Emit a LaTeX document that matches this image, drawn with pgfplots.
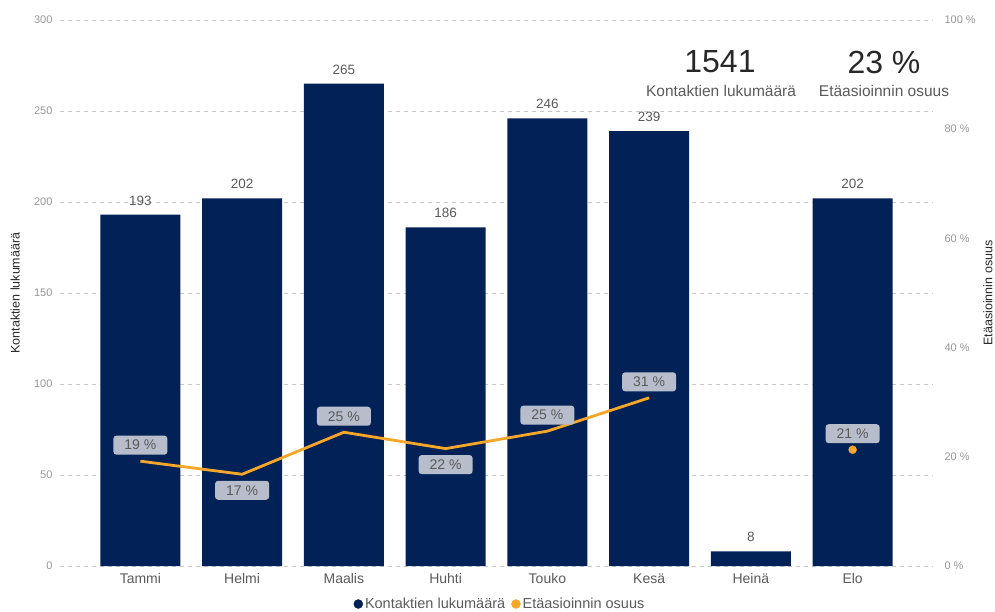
\documentclass[border=0pt]{standalone}
\usepackage{fontspec}
\setmainfont{Liberation Sans}
\usepackage{pgfplots}
\pgfplotsset{compat=1.18}
\definecolor{navy}{RGB}{2,33,86}
\definecolor{orangeline}{RGB}{246,166,40}
\definecolor{boxgray}{RGB}{183,189,203}
\definecolor{txtgray}{RGB}{90,90,90}
\definecolor{tickgray}{RGB}{150,150,150}
\definecolor{gridgray}{RGB}{200,200,200}
\definecolor{darktxt}{RGB}{40,40,40}
\begin{document}
\begin{tikzpicture}
\pgfplotsset{
  common/.style={
    scale only axis, width=873pt, height=546pt,
    at={(0,0)}, anchor=south west,
    xmin=-0.79, xmax=7.79,
    axis line style={draw=none},
    major tick length=0pt,
    /pgf/number format/assume math mode=true,
    yticklabel style={font=\fontsize{11}{13}\selectfont, text=tickgray},
  },
}
\begin{axis}[common,
  ymin=0, ymax=300,
  ytick={0,50,...,300},
  yticklabel style={xshift=-4pt},
  ymajorgrids,
  grid style={gridgray, line width=0.8pt, dash pattern=on 4pt off 4pt},
  xtick={0,...,7},
  xticklabels={Tammi,Helmi,Maalis,Huhti,Touko,Kesä,Heinä,Elo},
  xticklabel style={font=\fontsize{14}{16}\selectfont, text=txtgray, yshift=-4pt},
  ylabel={Kontaktien lukumäärä},
  every axis y label/.style={at={(axis description cs:-0.0515,0.5)}, rotate=90, anchor=center, font=\fontsize{12.5}{14}\selectfont, text=darktxt},
]
\addplot[ybar, bar width=80pt, fill=navy, draw=none,
  nodes near coords,
  every node near coord/.style={font=\fontsize{13.5}{15}\selectfont, text=txtgray, yshift=6pt}]
  coordinates {(0,193) (1,202) (2,265) (3,186) (4,246) (5,239) (6,8) (7,202)};
\end{axis}
\begin{axis}[common,
  ymin=0, ymax=100,
  ytick={0,20,...,100},
  axis x line=none,
  axis y line*=right,
  yticklabel={\pgfmathprintnumber{\tick} \%},
  yticklabel style={xshift=8pt},
  ylabel={Etäasioinnin osuus},
  every axis y label/.style={at={(axis description cs:1.063,0.5)}, rotate=90, anchor=center, font=\fontsize{12.5}{14}\selectfont, text=darktxt},
  legend style={at={(axis description cs:0.504,-0.0696)}, anchor=center, draw=none, fill=none,
    font=\fontsize{14.5}{16}\selectfont, text=txtgray, legend columns=2,
    /tikz/every even column/.append style={column sep=4pt}},
  legend cell align=left,
]
\addlegendimage{legend image code/.code={\fill[navy] (0.2cm,0) circle (4.5pt);}}
\addlegendentry{Kontaktien lukumäärä}
\addlegendimage{legend image code/.code={\fill[orangeline] (0.2cm,0) circle (4.5pt);}}
\addlegendentry{Etäasioinnin osuus}
\addplot[orangeline, line width=2.8pt, mark=none, forget plot]
  coordinates {(0,19.2) (1,16.8) (2,24.5) (3,21.5) (4,24.7) (5,30.8)};
\addplot[orangeline, only marks, mark=*, mark size=4pt, forget plot]
  coordinates {(7,21.3)};
\addplot[draw=none, mark=none, forget plot, nodes near coords, point meta=explicit symbolic,
  every node near coord/.style={anchor=center, yshift=16pt, fill=boxgray, rounded corners=3pt,
    text=txtgray, font=\fontsize{14}{16}\selectfont, minimum width=54pt, minimum height=19pt, inner sep=1pt}]
  coordinates {(0,19.2) [19 \%] (2,24.5) [25 \%] (4,24.7) [25 \%] (5,30.8) [31 \%] (7,21.3) [21 \%]};
\addplot[draw=none, mark=none, forget plot, nodes near coords, point meta=explicit symbolic,
  every node near coord/.style={anchor=center, yshift=-16pt, fill=boxgray, rounded corners=3pt,
    text=txtgray, font=\fontsize{14}{16}\selectfont, minimum width=54pt, minimum height=19pt, inner sep=1pt}]
  coordinates {(1,16.8) [17 \%] (3,21.5) [22 \%]};
\end{axis}
\node[font=\fontsize{32}{34}\selectfont, text=darktxt] at (660pt,504pt) {1541};
\node[font=\fontsize{15.5}{17}\selectfont, text=txtgray] at (661pt,475pt) {Kontaktien lukumäärä};
\node[font=\fontsize{32}{34}\selectfont, text=darktxt] at (824pt,504pt) {23 \%};
\node[font=\fontsize{15.5}{17}\selectfont, text=txtgray] at (824pt,475pt) {Etäasioinnin osuus};
\pgfresetboundingbox
\path (-60pt,-45pt) rectangle (935pt,566pt);
\end{tikzpicture}
\end{document}
